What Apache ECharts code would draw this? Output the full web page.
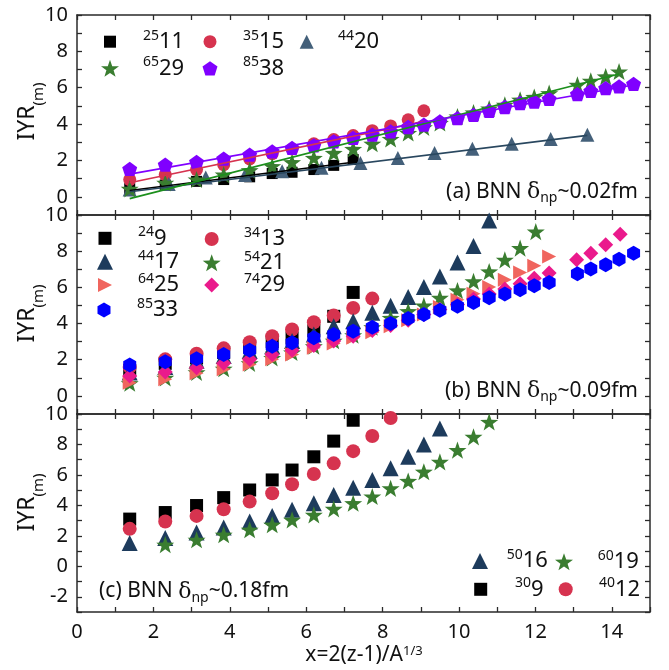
<!DOCTYPE html>
<html><head><meta charset="utf-8">
<script src="https://cdn.jsdelivr.net/npm/echarts@6/dist/echarts.min.js"></script>
<style>html,body{margin:0;padding:0;background:#fff}#c{width:669px;height:670px}</style>
</head><body><div id="c"></div>
<script>
// ---------- data ----------
const xTickLabels = [0, 2, 4, 6, 8, 10, 12, 14];
const yTickLabelsAB = [0, 2, 4, 6, 8, 10];
const yTickLabelsC = [-2, 0, 2, 4, 6, 8, 10];

// panel (a)
const a25_11_x = [1.38,2.31,3.13,3.84,4.52,5.11,5.63,6.2,6.72,7.23];
const a25_11_y = [0.45,0.65,0.85,0.95,1.1,1.28,1.35,1.5,1.73,2.05];
const a35_15_x = [1.38,2.31,3.13,3.84,4.52,5.11,5.63,6.2,6.72,7.23,7.73,8.21,8.67,9.08];
const a35_15_y = [0.95,1.22,1.5,1.77,2.08,2.37,2.63,2.92,3.15,3.37,3.64,3.9,4.24,4.73];
const a44_20_x = [1.38,2.4,3.37,4.4,5.37,6.4,7.42,8.4,9.36,10.35,11.38,12.4,13.36];
const a44_20_y = [0.4,0.7,1.06,1.2,1.4,1.6,1.86,2.14,2.41,2.65,2.92,3.18,3.42];
const a65_29_x = [1.38,2.31,3.13,3.84,4.52,5.11,5.63,6.2,6.72,7.23,7.73,8.21,8.67,9.08,9.5,9.96,10.38,10.79,11.2,11.6,11.97,12.36,13.1,13.45,13.84,14.19];
const a65_29_y = [0.44,0.77,0.95,1.22,1.46,1.68,1.9,2.14,2.41,2.63,2.92,3.18,3.51,3.82,4.06,4.42,4.64,4.85,5.06,5.34,5.49,5.7,6.16,6.38,6.62,6.89];
const a85_38_x = [1.38,2.31,3.13,3.84,4.52,5.11,5.63,6.2,6.72,7.23,7.73,8.21,8.67,9.08,9.5,9.96,10.38,10.79,11.2,11.6,11.97,12.36,13.1,13.45,13.84,14.19,14.57];
const a85_38_y = [1.54,1.77,1.92,2.1,2.32,2.5,2.69,2.83,3.05,3.24,3.42,3.6,3.84,3.97,4.15,4.33,4.51,4.73,4.94,5.16,5.24,5.39,5.65,5.83,5.98,6.07,6.21];
// linear fits (end points) in panel (a)
const fit25_11 = [[1.38,0.35],[7.23,1.9]];
const fit35_15 = [[1.38,0.77],[9.08,4.15]];
const fit44_20 = [[1.38,0.28],[13.36,3.38]];
const fit65_29 = [[1.38,-0.1],[14.19,6.75]];
const fit85_38 = [[1.38,1.25],[14.57,6.15]];

// panel (b)
const b24_9_x = [1.38,2.31,3.13,3.84,4.52,5.11,5.63,6.2,6.72,7.23];
const b24_9_y = [1.4,1.8,2.1,2.4,2.7,3.0,3.2,3.6,4.4,5.72];
const b34_13_x = [1.38,2.31,3.13,3.84,4.52,5.11,5.63,6.2,6.72,7.23,7.73];
const b34_13_y = [1.6,2.02,2.33,2.63,2.97,3.3,3.67,4.07,4.44,4.86,5.38];
const b44_17_x = [1.38,2.31,3.13,3.84,4.52,5.11,5.63,6.2,6.72,7.23,7.73,8.21,8.67,9.08,9.5,9.96,10.38,10.79];
const b44_17_y = [1.3,1.6,1.95,2.2,2.48,2.75,3.03,3.4,3.85,4.13,4.59,4.99,5.47,6.02,6.6,7.37,8.29,9.69];
const b54_21_x = [1.38,2.31,3.13,3.84,4.52,5.11,5.63,6.2,6.72,7.23,7.73,8.21,8.67,9.08,9.5,9.96,10.38,10.79,11.2,11.6,12.01];
const b54_21_y = [0.7,1.0,1.3,1.5,1.8,2.1,2.4,2.75,3.05,3.35,3.8,4.31,4.68,4.99,5.42,5.83,6.33,6.88,7.52,8.17,9.08];
const b64_25_x = [1.38,2.31,3.13,3.84,4.52,5.11,5.63,6.2,6.72,7.23,7.73,8.21,8.67,9.08,9.5,9.96,10.38,10.79,11.2,11.6,11.97,12.36];
const b64_25_y = [0.73,0.92,1.25,1.47,1.74,2.02,2.29,2.66,2.9,3.21,3.52,3.85,4.18,4.5,4.92,5.32,5.65,6.02,6.42,6.82,7.19,7.7];
const b74_29_x = [1.38,2.31,3.13,3.84,4.52,5.11,5.63,6.2,6.72,7.23,7.73,8.21,8.67,9.08,9.5,9.96,10.38,10.79,11.2,11.6,11.97,12.36,13.08,13.45,13.84,14.22];
const b74_29_y = [1.1,1.32,1.56,1.8,2.02,2.29,2.53,2.79,3.03,3.3,3.62,3.89,4.18,4.5,4.77,5.05,5.36,5.64,5.91,6.2,6.51,6.79,7.52,7.89,8.35,8.94];
const b85_33_x = [1.38,2.31,3.13,3.84,4.52,5.11,5.63,6.2,6.72,7.23,7.73,8.21,8.67,9.08,9.5,9.96,10.38,10.79,11.2,11.6,11.97,12.36,13.1,13.45,13.84,14.19,14.57];
const b85_33_y = [1.71,1.89,2.06,2.29,2.53,2.75,2.94,3.21,3.4,3.58,3.8,4.0,4.28,4.5,4.73,4.95,5.17,5.42,5.64,5.87,6.09,6.27,6.75,7.01,7.25,7.56,7.89];

// panel (c)
const c30_9_x = [1.38,2.31,3.13,3.84,4.52,5.11,5.63,6.2,6.72,7.23];
const c30_9_y = [3.1,3.53,3.99,4.51,5.01,5.67,6.32,7.19,8.22,9.59];
const c40_12_x = [1.38,2.31,3.13,3.84,4.52,5.11,5.63,6.2,6.72,7.23,7.73,8.21];
const c40_12_y = [2.46,2.94,3.31,3.75,4.25,4.8,5.39,6.06,6.76,7.56,8.56,9.74];
const c50_16_x = [1.38,2.31,3.13,3.84,4.52,5.11,5.63,6.2,6.72,7.23,7.73,8.21,8.67,9.08,9.5];
const c50_16_y = [1.53,1.86,2.22,2.55,2.94,3.31,3.71,4.14,4.69,5.16,5.67,6.43,7.19,8.0,9.05];
const c60_19_x = [2.31,3.13,3.84,4.52,5.11,5.63,6.2,6.72,7.23,7.73,8.21,8.67,9.08,9.5,9.96,10.38,10.79];
const c60_19_y = [1.42,1.74,2.07,2.4,2.73,3.05,3.38,3.77,4.14,4.58,5.12,5.6,6.21,6.86,7.63,8.5,9.48];

// ---------- style ----------
const FONT = 'Noto Sans';
const AX = '#2a2a2a';
const STAR = 'path://M50 0L61.76 33.82L97.55 34.55L69.02 56.18L79.39 90.45L50 70L20.61 90.45L30.98 56.18L2.45 34.55L38.24 33.82Z';
const PENT = 'path://M50 0L97.55 34.55L79.39 90.45L20.61 90.45L2.45 34.55Z';
const HEX = 'path://M50 0L93.3 25L93.3 75L50 100L6.7 75L6.7 25Z';
const RTRI = 'path://M0 0L100 50L0 100Z';
const C = {black:'#000000', red:'#d6334f', slate:'#44607a', navy:'#1d3b5c', green:'#3a7d30', purple:'#8000ff',
           salmon:'#f0655e', magenta:'#ea1a8c', blue:'#0000ff', fitGreen:'#1c8f1c', fitSlate:'#29475f'};

const zip = (xs, ys) => xs.map((x, i) => [x, ys[i]]);
function sc(name, xs, ys, g, symbol, size, color) {
  return {type:'scatter', name, xAxisIndex:2*g, yAxisIndex:2*g, data:zip(xs, ys), symbol, symbolSize:size,
          symbolKeepAspect:true, itemStyle:{color, opacity:1}, silent:true};
}
function fit(data, color) {
  return {type:'line', data, xAxisIndex:0, yAxisIndex:0, symbol:'none', silent:true,
          lineStyle:{color, width:1.6}};
}

const grids = [
  {left:77, right:19, top:15, height:200},
  {left:77, right:19, top:215, height:199},
  {left:77, right:19, top:414, height:198}
];
const yMin = [-1, -1, -3];
const yLab = [yTickLabelsAB, yTickLabelsAB, yTickLabelsC];

const xAxis = [], yAxis = [];
for (let g = 0; g < 3; g++) {
  const base = {gridIndex:g, type:'value', min:0, max:15, interval:1, splitLine:{show:false},
    axisLine:{show:true, onZero:false, lineStyle:{color:AX, width:1.5}},
    axisTick:{show:true, inside:true, length:5, lineStyle:{color:AX, width:1.3}}};
  xAxis.push(Object.assign({}, base, {position:'bottom',
    axisLabel: g === 2 ? {show:true, margin:10, fontSize:20, fontFamily:FONT, color:'#111',
      formatter: v => xTickLabels.includes(v) ? String(v) : ''} : {show:false}}));
  xAxis.push(Object.assign({}, base, {position:'top', axisLabel:{show:false}}));
  const ybase = {gridIndex:g, type:'value', min:yMin[g], max:10, interval:1, splitLine:{show:false},
    axisLine:{show:true, onZero:false, lineStyle:{color:AX, width:1.5}},
    axisTick:{show:true, inside:true, length:5, lineStyle:{color:AX, width:1.3}}};
  yAxis.push(Object.assign({}, ybase, {position:'left',
    axisLabel:{show:true, margin:9, fontSize:20, fontFamily:FONT, color:'#111',
      formatter: v => yLab[g].includes(v) ? String(v) : ''}}));
  yAxis.push(Object.assign({}, ybase, {position:'right', axisLabel:{show:false}}));
}

const series = [
  sc('25 11', a25_11_x, a25_11_y, 0, 'rect', 11, C.black),
  sc('35 15', a35_15_x, a35_15_y, 0, 'circle', 13, C.red),
  sc('44 20', a44_20_x, a44_20_y, 0, 'triangle', 14, C.slate),
  sc('65 29', a65_29_x, a65_29_y, 0, STAR, 18, C.green),
  sc('85 38', a85_38_x, a85_38_y, 0, PENT, 15, C.purple),
  fit(fit25_11, C.black), fit(fit35_15, C.red), fit(fit44_20, C.fitSlate),
  fit(fit65_29, C.fitGreen), fit(fit85_38, C.purple),

  sc('24 9', b24_9_x, b24_9_y, 1, 'rect', 13, C.black),
  sc('34 13', b34_13_x, b34_13_y, 1, 'circle', 14, C.red),
  sc('44 17', b44_17_x, b44_17_y, 1, 'triangle', 16, C.navy),
  sc('54 21', b54_21_x, b54_21_y, 1, STAR, 18, C.green),
  sc('64 25', b64_25_x, b64_25_y, 1, RTRI, 14, C.salmon),
  sc('74 29', b74_29_x, b74_29_y, 1, 'diamond', 15, C.magenta),
  sc('85 33', b85_33_x, b85_33_y, 1, HEX, 15, C.blue),

  sc('30 9', c30_9_x, c30_9_y, 2, 'rect', 13, C.black),
  sc('40 12', c40_12_x, c40_12_y, 2, 'circle', 14, C.red),
  sc('50 16', c50_16_x, c50_16_y, 2, 'triangle', 16, C.navy),
  sc('60 19', c60_19_x, c60_19_y, 2, STAR, 18, C.green)
];

function leg(name, xc, yc, size, xt) {
  const pad = xt - (xc + size / 2 + 5);
  return {data:[name], left:xc - size / 2, top:yc - 13, itemWidth:size, itemHeight:size, padding:0, itemGap:0,
    selectedMode:false,
    formatter: n => { const p = n.split(' '); return '{s|' + p[0] + '}{m|' + p[1] + '}'; },
    textStyle:{fontFamily:FONT, color:'#111', rich:{
      s:{fontSize:14, lineHeight:14, verticalAlign:'top', padding:[0,0,0,pad], fontFamily:FONT, color:'#111'},
      m:{fontSize:22, lineHeight:26, fontFamily:FONT, color:'#111'}}}};
}
const legend = [
  leg('25 11', 110, 41.7, 12, 143), leg('35 15', 210, 41.7, 13, 243), leg('44 20', 306.7, 41.7, 14, 338),
  leg('65 29', 110, 68.3, 18, 143), leg('85 38', 210, 68.3, 15, 243),
  leg('24 9', 105, 238.3, 13, 138), leg('34 13', 211.7, 239, 14, 244),
  leg('44 17', 105, 261.7, 16, 138), leg('54 21', 211.7, 262.7, 18, 244),
  leg('64 25', 105, 285, 14, 138), leg('74 29', 211.7, 285, 15, 244),
  leg('85 33', 105, 310, 15, 138),
  leg('50 16', 480, 561, 16, 506.7), leg('60 19', 564, 561.7, 18, 597.7),
  leg('30 9', 480.7, 589.3, 13, 515), leg('40 12', 565.7, 589.3, 14, 599)
];

function panelLabel(tag, val, x, y, align) {
  return {type:'text', x, y, silent:true, style:{
    text:'{m|(' + tag + ') BNN }{d|δ}{s|np}{m|~' + val + 'fm}', align, verticalAlign:'top',
    rich:{m:{fontSize:21, lineHeight:22, verticalAlign:'top', fontFamily:FONT, fill:'#111', color:'#111'},
          d:{fontSize:22, lineHeight:22, verticalAlign:'top', fontFamily:'DejaVu Serif', fill:'#111', color:'#111'},
          s:{fontSize:14, lineHeight:24, verticalAlign:'bottom', fontFamily:FONT, fill:'#111', color:'#111'}}}};
}
function yTitle(yc) {
  return {type:'text', x:15.5, y:yc, rotation:Math.PI / 2, silent:true, style:{
    text:'{m|IYR}{s|(m)}', align:'center', verticalAlign:'top',
    rich:{m:{fontSize:23, lineHeight:26, verticalAlign:'top', fontFamily:FONT, fill:'#111', color:'#111'},
          s:{fontSize:15, lineHeight:31, verticalAlign:'bottom', fontFamily:FONT, fill:'#111', color:'#111'}}}};
}
const graphic = [
  panelLabel('a', '0.02', 638, 181.5, 'right'),
  panelLabel('b', '0.09', 638, 380.5, 'right'),
  panelLabel('c', '0.18', 99, 581, 'left'),
  yTitle(111.5), yTitle(313.5), yTitle(502.5),
  {type:'text', x:364, y:645, silent:true, style:{text:'{m|x=2(z-1)/A}{s|1/3}', align:'center', verticalAlign:'top',
    rich:{m:{fontSize:21, lineHeight:24, verticalAlign:'top', fontFamily:FONT, fill:'#111', color:'#111'},
          s:{fontSize:13, lineHeight:13, verticalAlign:'top', fontFamily:FONT, fill:'#111', color:'#111'}}}}
];

const chart = echarts.init(document.getElementById('c'), null, {renderer:'canvas'});
chart.setOption({animation:false, backgroundColor:'#fff', grid:grids, xAxis, yAxis, series, legend, graphic});
</script></body></html>
